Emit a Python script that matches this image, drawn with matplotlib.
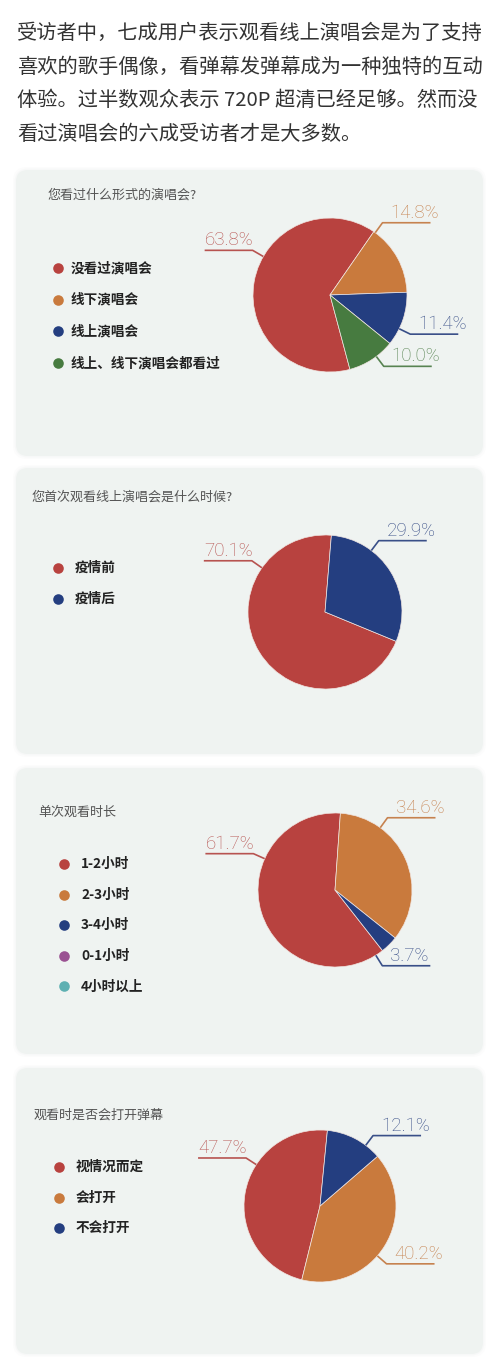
import numpy as np
import matplotlib.pyplot as plt
from matplotlib.patches import FancyBboxPatch
from matplotlib.colors import to_rgb

plt.rcParams['font.family'] = ['Noto Sans CJK SC', 'DejaVu Sans']

W, H = 492, 1362

# intro text
intro = ['受访者中，七成用户表示观看线上演唱会是为了支持',
         '喜欢的歌手偶像，看弹幕发弹幕成为一种独特的互动',
         '体验。过半数观众表示 720P 超清已经足够。然而没',
         '看过演唱会的六成受访者才是大多数。']

# chart 1
q1_title = '您看过什么形式的演唱会?'
q1_labels = ['没看过演唱会', '线下演唱会', '线上演唱会', '线上、线下演唱会都看过']
q1_values = [63.8, 14.8, 11.4, 10.0]

# chart 2
q2_title = '您首次观看线上演唱会是什么时候?'
q2_labels = ['疫情前', '疫情后']
q2_values = [70.1, 29.9]

# chart 3
q3_title = '单次观看时长'
q3_labels = ['1-2小时', '2-3小时', '3-4小时', '0-1小时', '4小时以上']
q3_values = [61.7, 34.6, 3.7, 0.0, 0.0]

# chart 4
q4_title = '观看时是否会打开弹幕'
q4_labels = ['视情况而定', '会打开', '不会打开']
q4_values = [47.7, 40.2, 12.1]

RED, ORANGE, BLUE, GREEN = '#b8423f', '#c97a3d', '#243e80', '#477b40'
PURPLE, TEAL = '#9a5192', '#5eb0b2'

# layout: label_at = where each leader line leaves the pie (deg, clockwise from 12 o'clock)
charts = [
    dict(title=q1_title, labels=q1_labels, values=q1_values,
         colors=[RED, ORANGE, BLUE, GREEN], top=170,
         title_xy=(48, 195), leg=(58, 71, 268, 31.7),
         center=(330, 295), r=77, start=-75, ccw=False,
         label_at=[300, 36, 116, 143]),
    dict(title=q2_title, labels=q2_labels, values=q2_values,
         colors=[RED, BLUE], top=468,
         title_xy=(32, 497), leg=(58, 75, 568, 31),
         center=(325, 612), r=77, start=-22.4, ccw=False,
         label_at=[305, 37]),
    dict(title=q3_title, labels=q3_labels, values=q3_values,
         colors=[RED, ORANGE, BLUE, PURPLE, TEAL], top=768,
         title_xy=(38, 812), leg=(64, 81, 864, 30.6),
         center=(335, 890), r=77, start=-51.9, ccw=False,
         label_at=[294, 36, 148]),
    dict(title=q4_title, labels=q4_labels, values=q4_values,
         colors=[RED, ORANGE, BLUE], top=1068,
         title_xy=(34, 1115), leg=(59, 76, 1167, 30.5),
         center=(320, 1206), r=76, start=84.4, ccw=True,
         label_at=[303, 131, 37]),
]


def Y(y):
    return H - y


def soften(c, k=0.15):
    r, g, b = to_rgb(c)
    return (r + (0.7 - r) * k, g + (0.7 - g) * k, b + (0.7 - b) * k)


fig = plt.figure(figsize=(W / 100, H / 100), dpi=100)
fig.patch.set_facecolor('white')
ax = fig.add_axes([0, 0, 1, 1])

for i, line in enumerate(intro):
    ax.text(17, Y(33 + i * 34), line, fontsize=14.6, color='#333333',
            ha='left', va='center')

for ch in charts:
    top = ch['top']
    # soft shadow + card
    for pad, a in [(3, 0.05), (1.5, 0.08)]:
        ax.add_patch(FancyBboxPatch((16 - pad, Y(top + 286) - pad), 467 + 2 * pad, 286 + 2 * pad,
                                    boxstyle='round,pad=0,rounding_size=14',
                                    fc='#c8cfcc', ec='none', alpha=a, zorder=0))
    ax.add_patch(FancyBboxPatch((16, Y(top + 286)), 467, 286,
                                boxstyle='round,pad=0,rounding_size=12',
                                fc='#eff3f1', ec='none', zorder=1))

    ax.text(ch['title_xy'][0], Y(ch['title_xy'][1]), ch['title'], fontsize=9.4,
            color='#555555', ha='left', va='center', zorder=3)

    cx, tx, y0, step = ch['leg']
    for j, (lab, col) in enumerate(zip(ch['labels'], ch['colors'])):
        yy = Y(y0 + j * step)
        ax.scatter([cx], [yy], s=58, color=col, zorder=3, linewidths=0)
        ax.text(tx, yy, lab, fontsize=9.8, fontweight='bold', color='#222222',
                ha='left', va='center', zorder=3)

    vals = [v for v in ch['values'] if v > 0]
    cols = [c for v, c in zip(ch['values'], ch['colors']) if v > 0]
    x0, y0c = ch['center'][0], Y(ch['center'][1])
    r = ch['r']
    ax.pie(vals, colors=cols, startangle=ch['start'], counterclock=ch['ccw'],
           center=(x0, y0c), radius=r, frame=True,
           wedgeprops=dict(edgecolor='#f1e6e2', linewidth=0.5, zorder=2))
    for v, c, a_cw in zip(vals, cols, ch['label_at']):
        ang = np.deg2rad(90 - a_cw)
        ca, sa = np.cos(ang), np.sin(ang)
        p0 = (x0 + r * ca, y0c + r * sa)
        p1 = (x0 + 1.16 * r * ca, y0c + 1.16 * r * sa)
        side = 1 if ca >= 0 else -1
        p2 = (p1[0] + side * 48, p1[1])
        lc = soften(c)
        ax.plot([p0[0], p1[0], p2[0]], [p0[1], p1[1], p2[1]], color=lc, lw=1.2, zorder=3,
                solid_capstyle='butt')
        tx0 = p1[0] + 8 if side > 0 else p2[0]
        ax.text(tx0, p1[1] + 1, f'{v:.1f}%', fontsize=13.5, color=lc,
                family=['Roboto', 'DejaVu Sans'], fontweight='light',
                ha='left', va='bottom', zorder=3)

ax.set_xlim(0, W)
ax.set_ylim(0, H)
ax.set_aspect('auto')
ax.axis('off')

fig.savefig('out.png', dpi=100, facecolor='white')
